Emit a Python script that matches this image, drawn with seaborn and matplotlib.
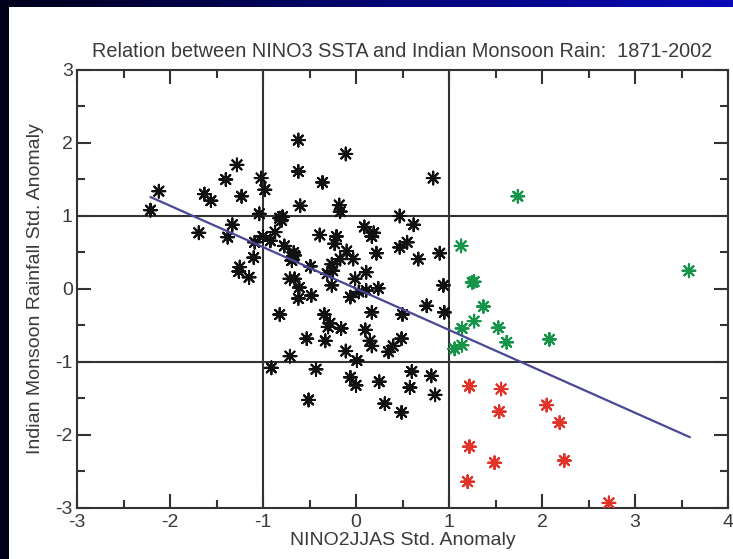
import numpy as np
import pandas as pd
import matplotlib
matplotlib.use("Agg")
import matplotlib.pyplot as plt
from matplotlib.colors import LinearSegmentedColormap
from matplotlib.patches import Rectangle
import seaborn as sns

# ---------------- data ----------------
normal_x = [-2.12, -2.21, -1.63, -1.56, -1.69, -1.40, -1.28, -1.23, -1.33, -1.38,
            -1.25, -1.26, -1.15, -1.10, -1.02, -0.98, -1.04, -1.00, -1.09, -0.92,
            -0.87, -0.82, -0.80, -0.77, -0.67, -0.66, -0.69, -0.62, -0.62, -0.60,
            -0.71, -0.66, -0.61, -0.62, -0.48, -0.49, -0.39, -0.36, -0.26, -0.25,
            -0.31, -0.26, -0.21, -0.23, -0.18, -0.17, -0.11, -0.17, -0.10, -0.03,
            -0.01, -0.06, 0.03, 0.11, 0.24, 0.09, 0.19, 0.17, 0.11, 0.22,
            0.47, 0.62, 0.55, 0.47, 0.67, 0.90, 0.94, 0.76, 0.95, 0.17,
            0.50, 0.83, 0.49, 0.60, 0.58, 0.81, 0.85, 0.49, -0.82, -0.34,
            -0.28, -0.30, -0.16, 0.10, -0.53, -0.33, 0.15, 0.17, 0.35, 0.40,
            -0.11, -0.71, 0.01, -0.91, -0.43, -0.06, 0.00, 0.25, -0.51, 0.31,
            -0.79]
normal_y = [1.34, 1.08, 1.30, 1.21, 0.77, 1.50, 1.70, 1.27, 0.88, 0.71,
            0.30, 0.24, 0.16, 0.43, 1.52, 1.36, 1.03, 0.72, 0.64, 0.66,
            0.78, 0.97, 0.94, 0.59, 0.50, 0.46, 0.39, 2.04, 1.61, 1.14,
            0.14, 0.14, 0.02, -0.13, -0.09, 0.31, 0.74, 1.46, 0.34, 0.25,
            0.21, 0.05, 0.72, 0.62, 1.15, 1.06, 1.85, 0.41, 0.52, 0.41,
            0.14, -0.11, -0.04, -0.02, 0.01, 0.85, 0.77, 0.72, 0.23, 0.49,
            1.00, 0.88, 0.64, 0.57, 0.41, 0.49, 0.05, -0.23, -0.32, -0.32,
            -0.35, 1.52, -0.68, -1.13, -1.35, -1.19, -1.45, -1.69, -0.35, -0.35,
            -0.47, -0.52, -0.54, -0.56, -0.68, -0.71, -0.71, -0.78, -0.86, -0.78,
            -0.85, -0.92, -0.98, -1.08, -1.10, -1.21, -1.32, -1.27, -1.52, -1.57,
            0.99]

warm_wet_x = [1.74, 1.13, 1.25, 1.27, 1.37, 3.58, 1.27, 1.14, 1.53, 1.62, 1.14, 1.06, 2.08]
warm_wet_y = [1.27, 0.59, 0.09, 0.10, -0.24, 0.25, -0.44, -0.54, -0.53, -0.73, -0.77, -0.82, -0.69]

warm_dry_x = [1.22, 1.56, 1.54, 2.05, 2.19, 1.22, 1.49, 2.24, 1.20, 2.72]
warm_dry_y = [-1.33, -1.37, -1.68, -1.59, -1.83, -2.16, -2.38, -2.35, -2.64, -2.93]

fit_x = [-2.21, 3.59]
fit_y = [1.26, -2.03]

x_ticks = [-3, -2, -1, 0, 1, 2, 3, 4]
y_ticks = [-3, -2, -1, 0, 1, 2, 3]
ref_lines = [-1, 1]

title = "Relation between NINO3 SSTA and Indian Monsoon Rain:  1871-2002"
xlabel = "NINO2JJAS Std. Anomaly"
ylabel = "Indian Monsoon Rainfall Std. Anomaly"

# ---------------- table ----------------
df = pd.DataFrame({
    "x": normal_x + warm_wet_x + warm_dry_x,
    "y": normal_y + warm_wet_y + warm_dry_y,
    "group": (["normal"] * len(normal_x) + ["wet"] * len(warm_wet_x)
              + ["dry"] * len(warm_dry_x)),
})
palette = {"normal": "#111111", "wet": "#16954a", "dry": "#e03329"}

# ---------------- figure ----------------
sns.set_theme(style="white")
plt.rcParams["font.family"] = ["Liberation Sans", "DejaVu Sans"]
plt.rcParams["axes.unicode_minus"] = False

fig = plt.figure(figsize=(7.33, 5.59), dpi=100)
fig.patch.set_facecolor("#00001c")

# gradient background (dark navy -> blue)
bg = fig.add_axes([0, 0, 1, 1], zorder=-10)
grad = np.linspace(0, 1, 256).reshape(1, -1)
cmap = LinearSegmentedColormap.from_list("bg", ["#00001a", "#050570", "#0a0ab8"])
bg.imshow(grad, aspect="auto", cmap=cmap, extent=[0, 1, 0, 1])
bg.set_axis_off()
bg.add_patch(Rectangle((9 / 733, 0), 1, 1 - 7 / 559, transform=bg.transAxes,
                       facecolor="white", edgecolor="none"))

ax = fig.add_axes([77 / 733, 1 - 508 / 559, (728 - 77) / 733, (508 - 70) / 559])
ax.set_facecolor("white")

for v in ref_lines:
    ax.axvline(v, color="#333333", lw=1.5, zorder=1)
    ax.axhline(v, color="#333333", lw=1.5, zorder=1)

# soft dark centre under each asterisk, then the asterisk itself
sns.scatterplot(data=df, x="x", y="y", hue="group", palette=palette,
                marker="o", s=22, linewidth=0, alpha=0.55, legend=False, ax=ax,
                zorder=2)
sns.scatterplot(data=df, x="x", y="y", hue="group", palette=palette,
                marker=(8, 2, 0), s=85, linewidth=1.5, legend=False, ax=ax,
                zorder=3)

sns.lineplot(x=fit_x, y=fit_y, color="#4a4896", lw=1.6, ax=ax, zorder=4)

ax.set_xlim(-3, 4)
ax.set_ylim(-3, 3)
ax.set_xticks(x_ticks)
ax.set_yticks(y_ticks)
ax.set_xticks(np.arange(-2.5, 4, 1.0), minor=True)
ax.set_yticks(np.arange(-2.5, 3, 1.0), minor=True)

txt = "#3a3a3a"
ax.tick_params(axis="both", which="major", direction="in", length=10, width=1.5,
               color="#333333", labelsize=14, labelcolor=txt,
               top=True, right=True, bottom=True, left=True, pad=5)
ax.tick_params(axis="both", which="minor", direction="in", length=5.5, width=1.5,
               color="#333333", top=True, right=True, bottom=True, left=True)
ax.tick_params(axis="x", which="major", pad=4)
ax.tick_params(axis="y", which="major", pad=3)

for sp in ax.spines.values():
    sp.set_visible(True)
    sp.set_color("#333333")
    sp.set_linewidth(1.5)

ax.set_title(title, fontsize=14.3, color=txt, pad=9)
ax.set_xlabel(xlabel, fontsize=14, color=txt, labelpad=1)
ax.set_ylabel(ylabel, fontsize=14, color=txt, labelpad=8)

fig.savefig("out.png", dpi=100, facecolor=fig.get_facecolor())
